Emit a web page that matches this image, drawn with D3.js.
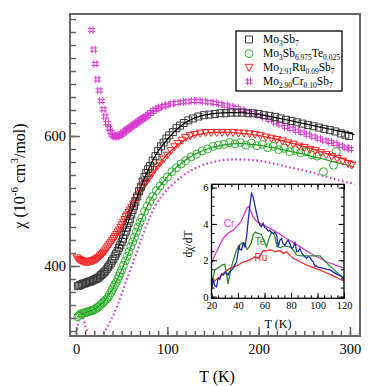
<!DOCTYPE html>
<html><head><meta charset="utf-8">
<script src="https://cdn.jsdelivr.net/npm/d3@7"></script>
<style>
body{margin:0;background:#fff}
svg{display:block}
text{font-family:"Liberation Serif","Times New Roman",serif;fill:#000}
text.sans{font-family:"Liberation Sans",Arial,sans-serif}
</style>
</head><body>
<svg id="c" width="390" height="386"></svg>
<script>
// ---------- main panel data: [T (K), chi (1e-6 cm3/mol)] ----------
const mo3sb7Pts = [[2,369],[3.5,370],[5,371],[6.5,372],[8,373],[9.5,373],[11,374],[12.5,375],[14,376],[15.5,376],[17,377],[18.5,378],[20,379],[21.5,380],[23,381],[24.5,382],[26,384],[27.5,386],[29,388],[30.5,390],[32,392],[33.5,395],[35,398],[36.5,401],[38,404],[39.5,408],[41,411],[42.5,415],[44,419],[45.5,423],[47,428],[48.5,432],[50,437],[51.5,442],[53,448],[54.5,453],[56,459],[57.5,466],[59,472],[60.5,479],[62,486],[63.5,492],[65,499],[67,507],[69,515],[71,522],[73,530],[75,537],[77,543],[79,549],[81,554],[84,562],[87,569],[90,577],[93,584],[96,590],[99,596],[102,601],[106,606],[110,612],[114,616],[118,620],[123,624],[128,627],[134,630],[140,632],[146,633],[152,634],[158,635],[164,635],[170,636],[176,636],[182,636],[188,635],[194,635],[200,634],[206,632],[212,631],[218,629],[224,627],[230,625],[236,623],[242,621],[248,619],[254,617],[260,615],[266,613],[272,611],[278,609],[284,607],[290,604],[295,602],[299,600]];
const mo3sb7Fit = [[46,428],[50,441],[55,459],[60,479],[65,499],[70,518],[75,535],[80,551],[85,565],[90,577],[100,595],[110,610],[120,621],[130,628],[140,632],[150,634.5],[160,635.5],[170,636],[180,636],[190,635],[200,633.5],[210,631],[220,628],[230,625],[240,622],[250,619],[260,616],[270,613],[280,610],[290,607],[300,604],[305,602]];

const tePts = [[2,322],[3.5,324],[5,326],[6.5,327],[8,327],[9.5,328],[11,329],[12.5,329],[14,330],[15.5,331],[17,331],[18.5,332],[20,333],[21.5,334],[23,336],[24.5,337],[26,339],[27.5,341],[29,343],[30.5,345],[32,347],[33.5,349],[35,352],[36.5,355],[38,359],[39.5,363],[41,367],[42.5,371],[44,375],[45.5,380],[47,384],[48.5,389],[50,394],[52,401],[54,408],[56,415],[58,422],[60,430],[62,437],[64,444],[66,452],[68,460],[70,467],[72,474],[75,484],[78,492],[81,500],[84,507],[88,516],[92,523],[96,531],[100,537],[105,545],[110,551],[115,557],[120,562],[126,568],[132,572],[138,577],[144,580],[150,584],[156,586],[162,587],[168,590],[174,588],[180,590],[186,586],[192,589],[198,585],[204,587],[210,582],[216,584],[222,579],[228,581],[234,576],[240,578],[246,574],[252,576],[258,571],[264,569],[271,545],[282,555],[285,576]];
const teFit = [[5,326],[10,328],[20,333],[30,344],[40,364],[50,394],[60,429],[70,466],[80,498],[90,520],[100,537],[110,552],[120,563],[130,572],[140,578],[150,583],[160,586],[170,588],[180,588.5],[190,587.5],[200,586],[210,583.5],[220,581],[230,578],[240,575],[250,572],[260,568],[270,565],[280,561],[290,558],[300,554],[305,552]];

const ruPts = [[1,412],[2.5,410],[4,409],[5.5,408],[7,407],[8.5,406],[10,406],[11.5,406],[13,406],[14.5,406],[16,407],[17.5,407],[19,408],[20.5,409],[22,410],[23.5,411],[25,413],[26.5,415],[28,417],[29.5,419],[31,421],[32.5,424],[34,427],[35.5,430],[37,433],[38.5,436],[40,439],[41.5,442],[43,445],[44.5,448],[46,452],[47.5,455],[49,459],[50.5,463],[52,467],[53.5,471],[55,475],[56.5,478],[58,482],[59.5,486],[61,490],[63,495],[65,500],[67,505],[69,510],[71,515],[73,520],[75,525],[77,529],[80,535],[83,541],[86,548],[89,553],[92,558],[96,564],[100,570],[104,577],[108,583],[112,588],[116,593],[120,597],[125,600],[130,602],[136,604],[142,605],[148,605],[154,605],[160,605],[166,605],[172,605],[178,604],[184,604],[190,603],[196,602],[202,600],[208,598],[214,596],[220,594],[226,592],[232,589],[238,587],[244,584],[250,582],[256,579],[262,577],[268,574],[274,571],[280,568],[286,565],[292,561],[298,557],[302,555]];
const ruFit = [[44,447],[50,461],[55,474],[60,487],[65,499],[70,511],[75,523],[80,534],[85,545],[90,555],[95,564],[100,572],[110,585],[120,595],[130,601],[140,604],[150,605.5],[160,606],[170,605.5],[180,604.5],[190,603],[200,601],[210,598],[220,595],[230,591.5],[240,587.5],[250,583.5],[260,579.5],[270,575],[280,570.5],[290,566],[300,561.5],[305,559]];

const crPts = [[17,763],[19.4,733],[21.2,711],[23.4,687],[25.5,670],[27.7,654],[30,641],[32,630],[34,620],[36,612],[38,606],[40,602],[41.5,600],[43,599],[44.5,599],[46,600],[47.5,601],[49,602],[50.5,604],[52,605],[53.5,607],[55,609],[56.5,610],[58,612],[59.5,613],[61,615],[62.5,616],[64,618],[65.5,619],[67,621],[68.5,622],[70,624],[71.5,625],[73,627],[74.5,628],[76,629],[78,631],[80,634],[83,637],[86,640],[89,642],[92,644],[96,646],[100,648],[105,650],[110,651],[116,652],[122,653],[128,654],[134,654],[140,653],[146,652],[152,651],[158,649],[164,647],[170,645],[176,643],[182,640],[188,637],[194,635],[200,632],[206,629],[212,625],[218,621],[224,618],[230,614],[236,611],[242,608],[248,605],[254,602],[260,599],[266,596],[272,593],[278,591],[284,588],[290,585],[296,582],[300,580]];
const crDotLow = [[1,302],[2,310],[3,318],[4,326],[5,330],[6,328],[7,324],[8,318],[9,313],[10,308],[11,304],[12,300]];
const crDotMain = [[30,296],[35,308],[40,322],[45,338],[50,357],[55,377],[60,396],[65,415],[70,435],[75,455],[80,472],[85,488],[90,500],[95,510],[100,518],[110,531],[120,542],[130,550],[140,556],[150,560],[160,563],[170,564],[180,564],[190,563.5],[200,562],[210,559.5],[220,556.5],[230,553],[240,550],[250,547],[260,543],[270,539],[280,535],[290,531],[300,528],[305,526]];

const xTicks = [0,100,200,300];
const yTicks = [400,600];

// ---------- inset data: [T (K), dchi/dT] ----------
const insetMo = [[20,0.37],[21.3,0.92],[22.5,0.6],[23.8,0.55],[25,1.0],[26.3,0.95],[27.5,1.25],[28.8,1.19],[30,1.3],[31.3,1.29],[32.5,1.2],[33.8,1.38],[35,1.45],[36.3,1.56],[37.6,1.75],[38.9,1.92],[40.1,2.47],[40.8,2.84],[41.4,2.6],[42.7,2.57],[43.9,2.93],[45.2,2.75],[46.5,3.3],[47.7,4.21],[49,5.03],[50.2,5.67],[51.4,5.49],[52.7,5.03],[54,4.58],[55.2,4.21],[56.5,3.94],[57.7,3.85],[59,4.03],[60.2,3.8],[61.5,3.75],[62.8,3.6],[64.1,3.66],[65.3,3.5],[66.6,3.48],[67.9,3.55],[69.1,3.39],[70.4,2.75],[71.6,3.1],[72.9,3.2],[74.1,2.9],[75.4,2.84],[76.7,3.0],[77.9,3.11],[79.2,2.9],[80.4,2.66],[81.7,2.7],[83,3.02],[84.2,2.47],[85.5,2.5],[86.7,2.66],[88,2.4],[89.2,2.29],[90.5,2.2],[91.8,2.11],[93,2.2],[94.3,2.16],[95.6,2.0],[96.8,1.92],[98.1,1.65],[99.3,1.7],[100.6,1.61],[102.5,1.6],[104.4,1.56],[107,1.5],[109.4,1.47],[112,1.35],[114.5,1.24],[117,1.15],[119.5,1.06],[120,1.04]];
const insetTe = [[20,0.46],[21,1.0],[22.5,1.47],[24,1.55],[26.3,1.65],[28,1.75],[30,1.78],[31.3,1.29],[32.5,0.7],[33.8,1.2],[35.1,1.65],[37,2.1],[38.9,2.57],[40.8,2.8],[42.7,2.93],[44.5,2.98],[45.5,2.8],[47,2.6],[48.5,2.75],[50,2.95],[51.5,3.4],[53,3.55],[55,3.48],[57.5,3.42],[59,3.2],[61.5,2.75],[63.5,3.2],[65.3,3.55],[67.5,3.4],[69.5,2.75],[72,2.7],[75.5,2.8],[78,2.75],[80.4,2.7],[82.3,2.5],[84.2,2.29],[86.7,2.26],[89.2,2.24],[94.3,2.24],[101.9,2.24],[105.6,1.95],[109.4,1.69],[114.5,1.35],[119.5,1.01],[120,0.98]];
const insetCr = [[20,1.83],[21.9,2.2],[23.8,2.47],[26.3,2.85],[28.8,3.2],[31.3,3.4],[33.8,3.55],[36.3,3.66],[38.9,3.85],[41.4,4.05],[42.7,4.2],[44.5,4.5],[46.5,4.85],[48,4.95],[49.4,4.75],[51.4,4.4],[53.9,4.15],[56.5,4.03],[61.5,3.85],[66.6,3.66],[71.6,3.43],[76.7,3.2],[81.7,2.97],[86.7,2.75],[91.8,2.52],[96.8,2.29],[101.9,2.1],[106.9,1.92],[113.2,1.75],[120,1.58]];
const insetRu = [[20,0.73],[23,0.9],[26.3,1.1],[30,1.35],[33.8,1.56],[36,1.62],[38.9,1.69],[41.4,1.8],[43.9,1.92],[46.5,1.95],[49,2.02],[51,2.12],[52.7,2.2],[54,2.15],[55.3,2.11],[57,2.3],[59,2.53],[61.5,2.52],[64,2.57],[66,2.55],[67.9,2.47],[69.8,2.5],[71.6,2.53],[73,2.45],[74.1,2.38],[75.4,2.42],[76.7,2.47],[79,2.3],[81.7,2.11],[86.7,1.92],[91.8,1.74],[96.8,1.6],[101.9,1.47],[106.9,1.3],[111.9,1.14],[116,1.0],[120,0.85]];
const insetXTicks = [20,40,60,80,100,120];
const insetYTicks = [0,2,4,6];

const legendLabels = [
  [["Mo",0],["3",1],["Sb",0],["7",1]],
  [["Mo",0],["3",1],["Sb",0],["6.975",1],["Te",0],["0.025",1]],
  [["Mo",0],["2.91",1],["Ru",0],["0.09",1],["Sb",0],["7",1]],
  [["Mo",0],["2.90",1],["Cr",0],["0.10",1],["Sb",0],["7",1]]
];
const insetNames = ["Cr","Te","Ru"];

// ---------- colours ----------
const cGreen="#2fb52f", cRed="#ff2424", cMag="#d83ad0";
const cTeIn="#2c8a2c", cBlue="#1f2aa8";

const svg = d3.select("#c");
const X = d3.scaleLinear().domain([-6.6, 311]).range([70, 360]);
const Y = d3.scaleLinear().domain([292.3, 787.7]).range([336, 14]);

const defs = svg.append("defs");
defs.append("clipPath").attr("id","clipMain")
  .append("rect").attr("x",70).attr("y",14).attr("width",290).attr("height",322);

const plot = svg.append("g").attr("clip-path","url(#clipMain)");
const line = d3.line().x(d=>X(d[0])).y(d=>Y(d[1]));

const symSquare = "M-3.5,-3.5h7v7h-7z";
const symTri = "M-4,-3.3L4,-3.3L0,3.7Z";
const symHash = "M-1.6,-3.8V3.8M1.6,-3.8V3.8M-3.8,-1.6H3.8M-3.8,1.6H3.8";

function markers(data, path, color, w){
  plot.append("g").selectAll("path").data(data).join("path")
    .attr("d", path).attr("transform", d=>`translate(${X(d[0])},${Y(d[1])})`)
    .attr("fill","none").attr("stroke", color).attr("stroke-width", w||1);
}

// magenta
[crDotLow, crDotMain].forEach(seg=>{
  plot.append("path").datum(seg).attr("d", line).attr("fill","none")
    .attr("stroke", cMag).attr("stroke-width",2.2).attr("stroke-dasharray","1.6,2.6");
});
markers(crPts, symHash, cMag, 1);
// green
plot.append("g").selectAll("circle").data(tePts).join("circle")
  .attr("cx", d=>X(d[0])).attr("cy", d=>Y(d[1])).attr("r",4)
  .attr("fill","none").attr("stroke", cGreen).attr("stroke-width",1);
plot.append("path").datum(teFit).attr("d", line).attr("fill","none").attr("stroke","#1f9a1f").attr("stroke-width",1.2);
// red
markers(ruPts, symTri, cRed, 1);
plot.append("path").datum(ruFit).attr("d", line).attr("fill","none").attr("stroke",cRed).attr("stroke-width",1.3);
// black
markers(mo3sb7Pts, symSquare, "#3a3a3a", 1);
plot.append("path").datum(mo3sb7Fit).attr("d", line).attr("fill","none").attr("stroke","#000").attr("stroke-width",1.2);

// ---------- main axes ----------
const frameCol = "#666";
svg.append("rect").attr("x",70).attr("y",14).attr("width",290).attr("height",322)
  .attr("fill","none").attr("stroke",frameCol).attr("stroke-width",2);

const xMinor = d3.range(0, 311, 10);
const gx = svg.append("g").attr("transform","translate(0,336)");
gx.call(d3.axisBottom(X).tickValues(xMinor).tickSize(-5).tickFormat(""));
gx.append("g").call(d3.axisBottom(X).tickValues(xTicks).tickSize(-9).tickPadding(8).tickFormat(d3.format("d")));
gx.selectAll(".domain").remove();
gx.selectAll("line").attr("stroke", frameCol).attr("stroke-width",1.5);
gx.selectAll("text").style("font-size","14.5px").attr("fill","#000");

const yMinor = d3.range(300, 788, 20);
const gy = svg.append("g").attr("transform","translate(70,0)");
gy.call(d3.axisLeft(Y).tickValues(yMinor).tickSize(-6).tickFormat(""));
gy.append("g").call(d3.axisLeft(Y).tickValues(yTicks).tickSize(-10).tickPadding(4).tickFormat(d3.format("d")));
gy.selectAll(".domain").remove();
gy.selectAll("line").attr("stroke", frameCol).attr("stroke-width",1.5);
gy.selectAll("text").style("font-size","14.5px").attr("fill","#000");

// axis titles
svg.append("text").attr("x",217).attr("y",382).attr("text-anchor","middle")
  .style("font-size","16px").text("T (K)");

const yl = svg.append("text").attr("transform","translate(25,176) rotate(-90)")
  .attr("text-anchor","middle").style("font-size","16px");
yl.append("tspan").text("χ (10");
yl.append("tspan").style("font-size","11px").attr("dy",-7).text("-6");
yl.append("tspan").attr("dy",7).text(" cm");
yl.append("tspan").style("font-size","11px").attr("dy",-7).text("3");
yl.append("tspan").attr("dy",7).text("/mol)");

// ---------- legend ----------
const lg = svg.append("g");
lg.append("rect").attr("x",236).attr("y",31).attr("width",106).attr("height",60)
  .attr("fill","#fff").attr("stroke","#000").attr("stroke-width",1.3);
const legRows = [39.5,53.6,67.6,81.6];
const legSyms = [
  g=>g.append("path").attr("d",symSquare).attr("fill","none").attr("stroke","#3a3a3a"),
  g=>g.append("circle").attr("r",4).attr("fill","none").attr("stroke",cGreen),
  g=>g.append("path").attr("d",symTri).attr("fill","none").attr("stroke",cRed),
  g=>g.append("path").attr("d",symHash).attr("fill","none").attr("stroke",cMag)
];
legendLabels.forEach((parts,i)=>{
  const g = lg.append("g").attr("transform",`translate(249,${legRows[i]})`);
  legSyms[i](g);
  const t = lg.append("text").attr("x",263).attr("y",legRows[i]+3.5).style("font-size","11.5px");
  let sub=false;
  parts.forEach(([s,isSub])=>{
    const ts = t.append("tspan").text(s);
    if(isSub){ ts.style("font-size","7.5px"); if(!sub){ ts.attr("dy",3); sub=true; } }
    else if(sub){ ts.attr("dy",-3); sub=false; }
  });
});

// ---------- inset ----------
const XI = d3.scaleLinear().domain([20,120]).range([211.5,344]);
const YI = d3.scaleLinear().domain([-0.09,6.18]).range([298.3,184.3]);
const ins = svg.append("g");
ins.append("rect").attr("x",211.5).attr("y",184.3).attr("width",132.5).attr("height",114)
  .attr("fill","#fff");
defs.append("clipPath").attr("id","clipIn")
  .append("rect").attr("x",211.5).attr("y",184.3).attr("width",132.5).attr("height",114);
const ip = ins.append("g").attr("clip-path","url(#clipIn)");
const iline = d3.line().x(d=>XI(d[0])).y(d=>YI(d[1]));
[[insetCr,cMag],[insetRu,cRed],[insetTe,cTeIn],[insetMo,cBlue]].forEach(([d,c])=>{
  ip.append("path").datum(d).attr("d",iline).attr("fill","none").attr("stroke",c).attr("stroke-width",1.3);
});

ins.append("rect").attr("x",211.5).attr("y",184.3).attr("width",132.5).attr("height",114)
  .attr("fill","none").attr("stroke","#000").attr("stroke-width",1.3);

const ixMinor = d3.range(20,121,5), iyMinor = d3.range(0,6.1,0.5);
function insetAxis(gen, pos, minorVals, majorVals, labels){
  const g = ins.append("g").attr("transform", pos);
  g.call(gen().tickValues(minorVals).tickSize(-3).tickFormat(""));
  g.append("g").call(gen().tickValues(majorVals).tickSize(-5.5).tickPadding(3)
    .tickFormat(labels ? d3.format("d") : ""));
  g.selectAll(".domain").remove();
  g.selectAll("line").attr("stroke","#000").attr("stroke-width",1);
  g.selectAll("text").style("font-size","10.5px").attr("fill","#000");
  return g;
}
insetAxis(()=>d3.axisBottom(XI),"translate(0,298.3)",ixMinor,insetXTicks,true);
insetAxis(()=>d3.axisTop(XI),"translate(0,184.3)",ixMinor,insetXTicks,false);
insetAxis(()=>d3.axisLeft(YI),"translate(211.5,0)",iyMinor,insetYTicks,true);
insetAxis(()=>d3.axisRight(YI),"translate(344,0)",iyMinor,insetYTicks,false);

svg.append("text").attr("x",278).attr("y",327.5).attr("text-anchor","middle").style("font-size","12px").text("T (K)");
svg.append("text").attr("transform","translate(192,244) rotate(-90)").attr("text-anchor","middle")
  .style("font-size","11.5px").text("dχ/dT");

const nameCols = [cMag, cTeIn, cRed];
const nameX = [229, 260, 261], nameY = [226.5, 244.8, 260.5];
insetNames.forEach((n,i)=>{
  svg.append("text").attr("class","sans").attr("x",nameX[i]).attr("y",nameY[i])
    .attr("text-anchor","middle").style("font-size","10px").style("fill",nameCols[i]).text(n);
});
</script>
</body></html>
